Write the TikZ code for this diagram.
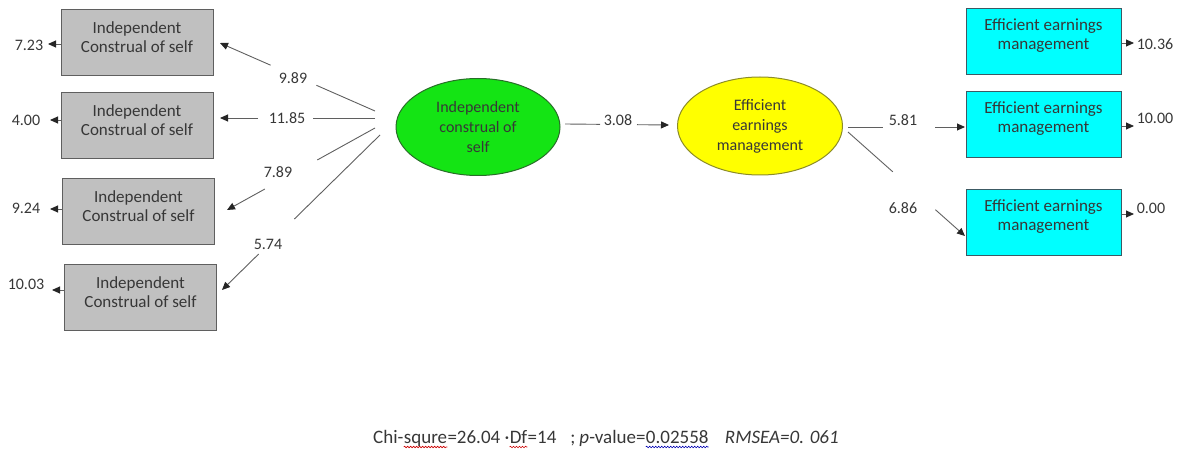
\documentclass[tikz,border=0pt]{standalone}
\usepackage{fontspec}
\setmainfont{Carlito}
\usetikzlibrary{arrows.meta,shapes.geometric,decorations.pathmorphing}
\definecolor{boxgray}{RGB}{192,192,192}
\definecolor{grayedge}{RGB}{95,95,95}
\definecolor{greenfill}{RGB}{20,228,20}
\definecolor{greenedge}{RGB}{40,110,40}
\definecolor{yellowfill}{RGB}{255,255,0}
\definecolor{yellowedge}{RGB}{140,140,40}
\definecolor{cyanfill}{RGB}{0,255,255}
\definecolor{cyanedge}{RGB}{60,90,100}
\definecolor{txt}{RGB}{55,55,55}
\definecolor{linec}{RGB}{95,95,95}
\begin{document}
\begin{tikzpicture}[x=1pt,y=-1pt,
  font=\fontsize{16}{19}\selectfont, text=txt,
  gbox/.style={draw=grayedge, fill=boxgray, line width=1pt, minimum width=152pt, minimum height=66pt, inner sep=0pt},
  cbox/.style={draw=cyanedge, fill=cyanfill, line width=1pt, minimum width=155pt, minimum height=66pt, inner sep=0pt},
  btext/.style={align=center, yshift=5.5pt, text=txt, font=\fontsize{17}{19}\selectfont},
  lv/.style={ellipse, line width=1pt, minimum width=164pt, minimum height=97pt, inner sep=0pt, align=center, font=\fontsize{16}{20}\selectfont},
  lab/.style={inner sep=1pt, text=txt},
  ft/.style={inner sep=0pt, anchor=base west, text=txt, font=\fontsize{19}{21}\selectfont},
  conn/.style={draw=linec, line width=0.9pt, -{Triangle[length=8pt,width=7pt,color=black!85]}},
  squig/.style={decorate, decoration={snake, amplitude=0.8pt, segment length=3pt}, line width=0.6pt}
]
\useasboundingbox (0,0) rectangle (1179,449);

% left indicator boxes
\node[gbox, label={[btext]center:{Independent\\Construal of self}}] (g1) at (137,43) {};
\node[gbox, label={[btext]center:{Independent\\Construal of self}}] (g2) at (137,126) {};
\node[gbox, label={[btext]center:{Independent\\Construal of self}}] (g3) at (138.5,211.5) {};
\node[gbox, label={[btext]center:{Independent\\Construal of self}}] (g4) at (140.5,298) {};

% right indicator boxes
\node[cbox, label={[btext]center:{Efficient earnings\\management}}] (c1) at (1043.5,41.5) {};
\node[cbox, label={[btext]center:{Efficient earnings\\management}}] (c2) at (1043.5,124.5) {};
\node[cbox, label={[btext]center:{Efficient earnings\\management}}] (c3) at (1043.5,222.5) {};

% latent variables
\node[lv, draw=greenedge, fill=greenfill] (gr) at (478,127) {Independent\\construal of\\self};
\node[lv, draw=yellowedge, fill=yellowfill, minimum width=165pt, minimum height=98pt] (ye) at (760,126) {Efficient\\earnings\\management};

% residuals
\coordinate (a1) at (48,44);
\coordinate (a2) at (50,120);
\coordinate (a3) at (50,209);
\coordinate (a4) at (52,290);
\coordinate (b1) at (1134,43);
\coordinate (b2) at (1134,126);
\coordinate (b3) at (1134,214);
\node[lab] (r1) at (29,45) {7.23};
\node[lab] (r2) at (26,120) {4.00};
\node[lab] (r3) at (26,208) {9.24};
\node[lab] (r4) at (26,284) {10.03};
\node[lab] (q1) at (1155,44) {10.36};
\node[lab] (q2) at (1155,118) {10.00};
\node[lab] (q3) at (1151,208) {0.00};
\draw[conn] (g1.west |- a1) -- (a1);
\draw[conn] (g2.west |- a2) -- (a2);
\draw[conn] (g3.west |- a3) -- (a3);
\draw[conn] (g4.west |- a4) -- (a4);
\draw[conn] (c1.east |- b1) -- (b1);
\draw[conn] (c2.east |- b2) -- (b2);
\draw[conn] (c3.east |- b3) -- (b3);

% loadings, left
\coordinate (s1) at (375,111);
\coordinate (s2) at (375,118);
\coordinate (s3) at (375,128);
\coordinate (s4) at (380,135);
\coordinate (e1) at (220,43);
\coordinate (e2) at (220,118);
\coordinate (e3) at (227,210);
\coordinate (e4) at (222,290);
\draw[conn, dash pattern=on 64pt off 50pt on 300pt off 0pt] (s1) -- (e1);
\draw[conn, dash pattern=on 62pt off 55pt on 300pt off 0pt] (s2) -- (e2);
\draw[conn, dash pattern=on 66pt off 60pt on 300pt off 0pt] (s3) -- (e3);
\draw[conn, dash pattern=on 120pt off 50pt on 300pt off 0pt] (s4) -- (e4);
\node[lab] (l1) at (293,78) {9.89};
\node[lab] (l2) at (287,118) {11.85};
\node[lab] (l3) at (278,172) {7.89};
\node[lab] (l4) at (268,244) {5.74};

% structural path
\coordinate (s5) at (565,124);
\coordinate (e5) at (669,125);
\draw[conn, dash pattern=on 35pt off 37pt on 300pt off 0pt] (s5) -- (e5);
\node[lab] (l5) at (618,120) {3.08};

% loadings, right
\coordinate (s6) at (848,127);
\coordinate (s7) at (848,132);
\coordinate (e6) at (965,127);
\coordinate (e7) at (965,236);
\draw[conn, dash pattern=on 35pt off 52pt on 300pt off 0pt] (s6) -- (e6);
\draw[conn, dash pattern=on 60pt off 57pt on 300pt off 0pt] (s7) -- (e7);
\node[lab] (l6) at (903,120) {5.81};
\node[lab] (l7) at (903,208) {6.86};

% fit statistics
\node[ft] (f1) at (373,443) {Chi-};
\node[ft] (f2) at (f1.base east) {squre};
\node[ft] (f3) at (f2.base east) {=26.04 ·};
\node[ft] (f4) at (f3.base east) {Df};
\node[ft] (f5) at (f4.base east) {=14\hspace{14pt};\hspace{4pt}\textit{p}-value=};
\node[ft] (f6) at (f5.base east) {0.02558};
\node[ft] (f7) at (f6.base east) {\hspace{16pt}\textit{RMSEA=0. 061}};
\draw[squig, red!80!black] ([yshift=-4pt]f2.base west) -- ([yshift=-4pt]f2.base east);
\draw[squig, red!80!black] ([yshift=-4pt]f4.base west) -- ([yshift=-4pt]f4.base east);
\draw[squig, blue!70!black] ([yshift=-4pt]f6.base west) -- ([yshift=-4pt]f6.base east);
\end{tikzpicture}
\end{document}
